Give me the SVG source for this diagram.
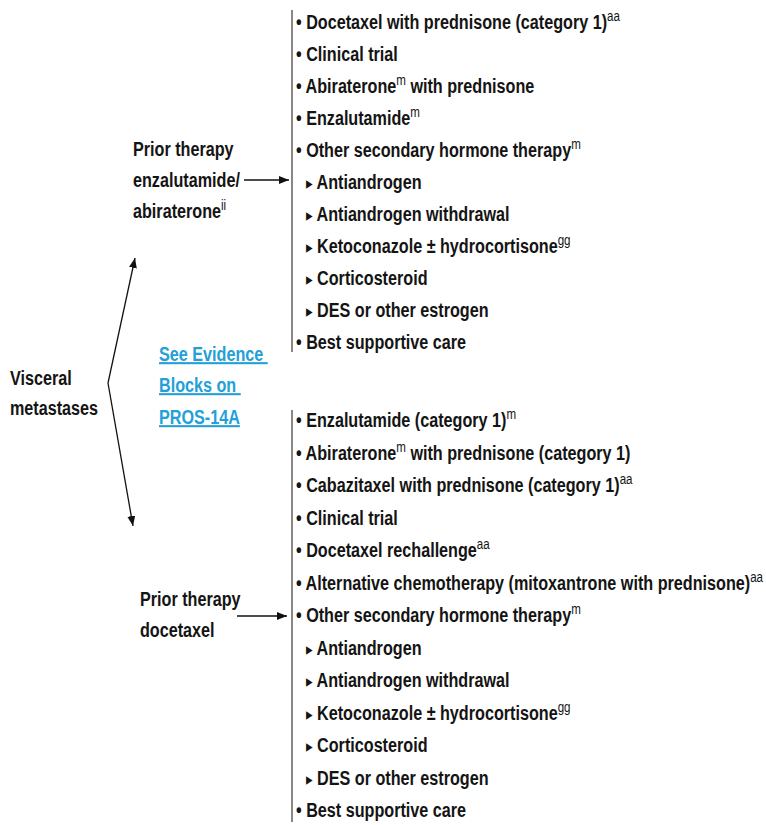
<svg xmlns="http://www.w3.org/2000/svg" width="766" height="825" viewBox="0 0 766 825">
<style>
text{font-family:"Liberation Sans",Arial,sans-serif;font-weight:bold;font-size:21px;fill:#141414}
.sup{font-size:15px;font-weight:normal}
.tri{font-family:"DejaVu Sans",sans-serif;font-size:17px;font-weight:normal}
.link{fill:#23a0d8;text-decoration:underline;white-space:pre}
.bar{stroke:#555;stroke-width:1.4;fill:none}
.conn{stroke:#111;stroke-width:1.3;fill:none;marker-end:url(#ah)}
</style>
<defs>
<marker id="ah" viewBox="0 0 10 8" refX="10" refY="4" markerWidth="10" markerHeight="8" markerUnits="userSpaceOnUse" orient="auto">
<path d="M0,0 L10,4 L0,8 z" fill="#111"/>
</marker>
</defs>
<rect width="766" height="825" fill="#fff"/>

<g id="connectors">
<path class="conn" d="M108,383 L135,258"/>
<path class="conn" d="M108,383 L133,526"/>
<path class="conn" d="M244,180 L289,180"/>
<path class="conn" d="M237,616 L287,616"/>
</g>

<g id="node-visceral">
<text transform="translate(10 385) scale(.77 1)">Visceral</text>
<text transform="translate(10 415) scale(.77 1)">metastases</text>
</g>

<g id="node-evidence">
<text class="link" transform="translate(159 361) scale(.77 1)">See Evidence </text>
<text class="link" transform="translate(159 392) scale(.77 1)">Blocks on </text>
<text class="link" transform="translate(159 424) scale(.77 1)">PROS-14A</text>
</g>

<g id="node-prior-enza">
<text transform="translate(133 156) scale(.77 1)">Prior therapy</text>
<text transform="translate(133 187) scale(.77 1)">enzalutamide/</text>
<text transform="translate(133 218) scale(.77 1)">abiraterone<tspan class="sup" dy="-8">ii</tspan></text>
</g>

<g id="node-prior-doce">
<text transform="translate(140 606) scale(.77 1)">Prior therapy</text>
<text transform="translate(140 637) scale(.77 1)">docetaxel</text>
</g>

<g id="node-options-top">
<line class="bar" x1="292" y1="10" x2="292" y2="352"/>
<text transform="translate(296 29) scale(.77 1)">• Docetaxel with prednisone (category 1)<tspan class="sup" dy="-8">aa</tspan></text>
<text transform="translate(296 61) scale(.77 1)">• Clinical trial</text>
<text transform="translate(296 93) scale(.77 1)">• Abiraterone<tspan class="sup" dy="-8">m</tspan><tspan dy="8"> with prednisone</tspan></text>
<text transform="translate(296 125) scale(.77 1)">• Enzalutamide<tspan class="sup" dy="-8">m</tspan></text>
<text transform="translate(296 157) scale(.77 1)">• Other secondary hormone therapy<tspan class="sup" dy="-8">m</tspan></text>
<text transform="translate(306 189) scale(.77 1)"><tspan class="tri">▸</tspan> Antiandrogen</text>
<text transform="translate(306 221) scale(.77 1)"><tspan class="tri">▸</tspan> Antiandrogen withdrawal</text>
<text transform="translate(306 253) scale(.77 1)"><tspan class="tri">▸</tspan> Ketoconazole ± hydrocortisone<tspan class="sup" dy="-8">gg</tspan></text>
<text transform="translate(306 285) scale(.77 1)"><tspan class="tri">▸</tspan> Corticosteroid</text>
<text transform="translate(306 317) scale(.77 1)"><tspan class="tri">▸</tspan> DES or other estrogen</text>
<text transform="translate(296 349) scale(.77 1)">• Best supportive care</text>
</g>

<g id="node-options-bottom">
<line class="bar" x1="292" y1="410" x2="292" y2="822"/>
<text transform="translate(296 427) scale(.77 1)">• Enzalutamide (category 1)<tspan class="sup" dy="-8">m</tspan></text>
<text transform="translate(296 459.5) scale(.77 1)">• Abiraterone<tspan class="sup" dy="-8">m</tspan><tspan dy="8"> with prednisone (category 1)</tspan></text>
<text transform="translate(296 492) scale(.77 1)">• Cabazitaxel with prednisone (category 1)<tspan class="sup" dy="-8">aa</tspan></text>
<text transform="translate(296 524.5) scale(.77 1)">• Clinical trial</text>
<text transform="translate(296 557) scale(.77 1)">• Docetaxel rechallenge<tspan class="sup" dy="-8">aa</tspan></text>
<text transform="translate(296 589.5) scale(.77 1)">• Alternative chemotherapy (mitoxantrone with prednisone)<tspan class="sup" dy="-8">aa</tspan></text>
<text transform="translate(296 622) scale(.77 1)">• Other secondary hormone therapy<tspan class="sup" dy="-8">m</tspan></text>
<text transform="translate(306 654.5) scale(.77 1)"><tspan class="tri">▸</tspan> Antiandrogen</text>
<text transform="translate(306 687) scale(.77 1)"><tspan class="tri">▸</tspan> Antiandrogen withdrawal</text>
<text transform="translate(306 719.5) scale(.77 1)"><tspan class="tri">▸</tspan> Ketoconazole ± hydrocortisone<tspan class="sup" dy="-8">gg</tspan></text>
<text transform="translate(306 752) scale(.77 1)"><tspan class="tri">▸</tspan> Corticosteroid</text>
<text transform="translate(306 784.5) scale(.77 1)"><tspan class="tri">▸</tspan> DES or other estrogen</text>
<text transform="translate(296 817) scale(.77 1)">• Best supportive care</text>
</g>
</svg>
